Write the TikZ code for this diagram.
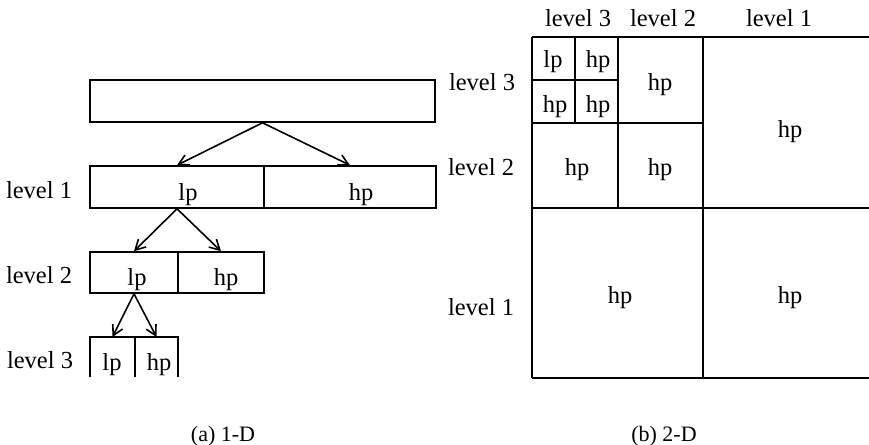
\documentclass[tikz,border=0pt]{standalone}
\usepackage{fontspec}
\setmainfont{Liberation Serif}
\usetikzlibrary{arrows.meta}
\begin{document}
\begin{tikzpicture}[x=0.5pt,y=-0.5pt,
  ln/.style={line width=0.8pt},
  box/.style 2 args={draw, line width=0.8pt, inner sep=0pt, minimum width={#1*0.5pt}, minimum height={#2*0.5pt}},
  arr/.style={line width=0.8pt, -{Straight Barb[length=5pt,width=5.5pt,line width=0.8pt]}},
  txt/.style={anchor=base, inner sep=0pt, font=\fontsize{12.25}{14}\selectfont},
  captxt/.style={anchor=base, inner sep=0pt, font=\fontsize{11}{13}\selectfont}]
\useasboundingbox (0,0) rectangle (869,445);
% ---------- (a) 1-D ----------
\node[box={345}{42}] (top) at (262.5,101) {};
\node[box={174}{42}] (l1lp) at (177,187) {};
\node[box={172}{42}] (l1hp) at (350,187) {};
\node[box={88}{41}] (l2lp) at (134,272.5) {};
\node[box={86}{41}] (l2hp) at (221,272.5) {};
\draw[ln] (90,377) -- (90,337) -- (178,337) -- (178,377);
\draw[ln] (135,337) -- (135,377);
\coordinate (l3lp) at (112.5,337);
\coordinate (l3hp) at (156.5,337);
\draw[arr] (top.south) -- (l1lp.north);
\draw[arr] (top.south) -- (l1hp.north);
\draw[arr] (l1lp.south) -- (l2lp.north);
\draw[arr] (l1lp.south) -- (l2hp.north);
\draw[arr] (l2lp.south) -- (l3lp);
\draw[arr] (l2lp.south) -- (l3hp);
\node[txt] (al1) at (39,198) {level 1};
\node[txt] (al2) at (39,283) {level 2};
\node[txt] (al3) at (40,368) {level 3};
\node[txt] (t1lp) at (188,200) {lp};
\node[txt] (t1hp) at (361,200) {hp};
\node[txt] (t2lp) at (137,285) {lp};
\node[txt] (t2hp) at (226,285) {hp};
\node[txt] (t3lp) at (112,370) {lp};
\node[txt] (t3hp) at (159,370) {hp};
\node[captxt] (capa) at (223,441) {(a) 1-D};
% ---------- (b) 2-D ----------
\draw[ln] (532,37) -- (869,37);
\draw[ln] (532,378) -- (869,378);
\draw[ln] (532,208) -- (869,208);
\draw[ln] (532,123) -- (703,123);
\draw[ln] (532,80) -- (618,80);
\draw[ln] (532,37) -- (532,378);
\draw[ln] (703,37) -- (703,378);
\draw[ln] (618,37) -- (618,208);
\draw[ln] (575,37) -- (575,123);
\node[txt] (c3) at (578,26) {level 3};
\node[txt] (c2) at (663,26) {level 2};
\node[txt] (c1) at (779,26) {level 1};
\node[txt] (r3) at (482,90) {level 3};
\node[txt] (r2) at (481,175) {level 2};
\node[txt] (r1) at (481,315) {level 1};
\node[txt] (q1) at (553,67) {lp};
\node[txt] (q2) at (598,67) {hp};
\node[txt] (q3) at (555,112) {hp};
\node[txt] (q4) at (598,112) {hp};
\node[txt] (m1) at (660,90) {hp};
\node[txt] (m2) at (577,175) {hp};
\node[txt] (m3) at (660,175) {hp};
\node[txt] (b1) at (790,137) {hp};
\node[txt] (b2) at (620,303) {hp};
\node[txt] (b3) at (790,303) {hp};
\node[captxt] (capb) at (664,441) {(b) 2-D};
\end{tikzpicture}
\end{document}
